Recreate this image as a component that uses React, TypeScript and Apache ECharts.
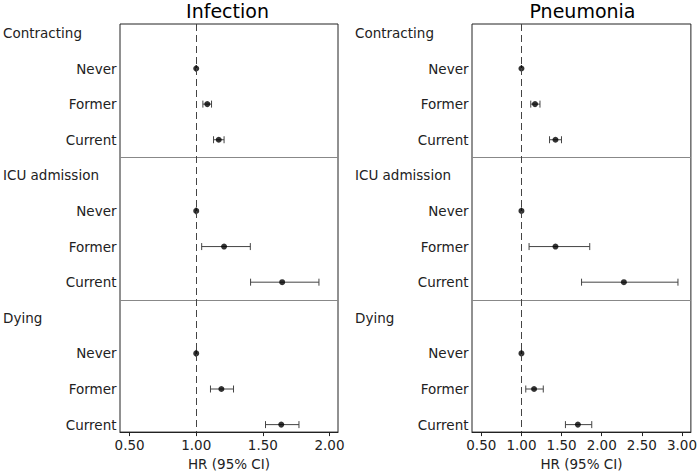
import React, { useEffect, useRef } from "react";
import * as echarts from "echarts";

const sections = ["Contracting", "ICU admission", "Dying"];
const rowLabels = ["Never", "Former", "Current"];
const panelTitles = ["Infection", "Pneumonia"];

const infectionHR = [1, 1.083, 1.169, 1, 1.209, 1.645, 1, 1.189, 1.638];
const infectionLow = [1, 1.05, 1.13, 1, 1.041, 1.408, 1, 1.107, 1.52];
const infectionHigh = [1, 1.115, 1.209, 1, 1.406, 1.921, 1, 1.28, 1.771];

const pneumoniaHR = [1, 1.169, 1.424, 1, 1.424, 2.276, 1, 1.157, 1.703];
const pneumoniaLow = [1, 1.116, 1.35, 1, 1.095, 1.749, 1, 1.054, 1.548];
const pneumoniaHigh = [1, 1.231, 1.499, 1, 1.851, 2.95, 1, 1.272, 1.876];

const infectionTicks = [0.5, 1, 1.5, 2];
const pneumoniaTicks = [0.5, 1, 1.5, 2, 2.5, 3];

const FONT = "DejaVu Sans";

export default function App() {
  const ref = useRef<HTMLDivElement>(null);
  useEffect(() => {
    document.body.style.margin = "0";
    const chart = echarts.init(ref.current!, null, { renderer: "svg" });

    const rowPos: number[] = [];
    sections.forEach((_, s) => rowLabels.forEach((_, r) => rowPos.push(s * 4 + r + 1)));
    const headerPos = sections.map((_, s) => s * 4);

    const panels = [
      { hr: infectionHR, lo: infectionLow, hi: infectionHigh, ticks: infectionTicks, min: 0.428, max: 2.064, left: 117 },
      { hr: pneumoniaHR, lo: pneumoniaLow, hi: pneumoniaHigh, ticks: pneumoniaTicks, min: 0.384, max: 3.111, left: 472 },
    ];

    const grids: any[] = [];
    const xAxes: any[] = [];
    const yAxes: any[] = [];
    const series: any[] = [];
    const titles: any[] = [];

    panels.forEach((p, i) => {
      grids.push({
        left: p.left, top: 24, width: 221, height: 416,
        show: true, borderColor: "#222", borderWidth: 1, backgroundColor: "transparent",
      });
      titles.push({
        text: panelTitles[i], left: p.left + 110.5, top: 1, textAlign: "center", padding: 0,
        textStyle: { fontFamily: FONT, fontSize: 19, fontWeight: "normal", color: "#000" },
      });
      xAxes.push({
        type: "value", gridIndex: i, min: p.min, max: p.max, position: "bottom",
        axisLine: { show: true, onZero: false, lineStyle: { color: "#222", width: 1 } },
        splitLine: { show: false },
        axisTick: { show: true, customValues: p.ticks, length: 4, inside: false, lineStyle: { color: "#222" } },
        axisLabel: {
          customValues: p.ticks, margin: 6, fontFamily: FONT, fontSize: 13.5, color: "#222",
          formatter: (v: number) => v.toFixed(2),
        },
        name: "HR (95% CI)", nameLocation: "middle", nameGap: 20,
        nameTextStyle: { fontFamily: FONT, fontSize: 13.5, color: "#222" },
      });
      const yBase = {
        type: "value", gridIndex: i, min: -0.25, max: 11.21, inverse: true, position: "left",
        axisLine: { show: false }, axisTick: { show: false }, splitLine: { show: false },
      };
      yAxes.push({
        ...yBase,
        axisLabel: {
          customValues: rowPos, margin: 3.5, fontFamily: FONT, fontSize: 13.5, color: "#222",
          formatter: (v: number) => rowLabels[(Math.round(v) % 4) - 1],
        },
      });
      yAxes.push({
        ...yBase,
        axisLabel: {
          customValues: headerPos, margin: 117, align: "left", fontFamily: FONT, fontSize: 13.5, color: "#222",
          formatter: (v: number) => sections[Math.round(v) / 4],
        },
      });

      const ciData = p.hr.map((_, k) => [p.lo[k], p.hi[k], rowPos[k]]);
      series.push({
        type: "custom", xAxisIndex: i, yAxisIndex: i * 2,
        data: ciData, encode: { x: [0, 1], y: 2 }, z: 3,
        renderItem: (params: any, api: any) => {
          const a = api.coord([api.value(0), api.value(2)]);
          const b = api.coord([api.value(1), api.value(2)]);
          const h = 3.5;
          const style = { stroke: "#444", lineWidth: 1 };
          return {
            type: "group",
            children: [
              { type: "line", shape: { x1: a[0], y1: a[1], x2: b[0], y2: b[1] }, style },
              { type: "line", shape: { x1: a[0], y1: a[1] - h, x2: a[0], y2: a[1] + h }, style },
              { type: "line", shape: { x1: b[0], y1: b[1] - h, x2: b[0], y2: b[1] + h }, style },
            ],
          };
        },
        markLine: {
          silent: true, symbol: "none", label: { show: false }, animation: false,
          data: [
            { yAxis: 3.5, lineStyle: { color: "#888", type: "solid", width: 1 } },
            { yAxis: 7.5, lineStyle: { color: "#888", type: "solid", width: 1 } },
            { xAxis: 1, lineStyle: { color: "#444", type: [7, 4], width: 1 } },
          ],
        },
      });
      series.push({
        type: "scatter", xAxisIndex: i, yAxisIndex: i * 2, z: 4,
        symbol: "circle", symbolSize: 6, itemStyle: { color: "#000" },
        data: p.hr.map((v, k) => [v, rowPos[k]]),
      });
    });

    chart.setOption({
      animation: false,
      backgroundColor: "#fff",
      title: titles,
      grid: grids,
      xAxis: xAxes,
      yAxis: yAxes,
      series,
    });
    return () => chart.dispose();
  }, []);
  return <div ref={ref} style={{ width: 700, height: 476 }} />;
}
